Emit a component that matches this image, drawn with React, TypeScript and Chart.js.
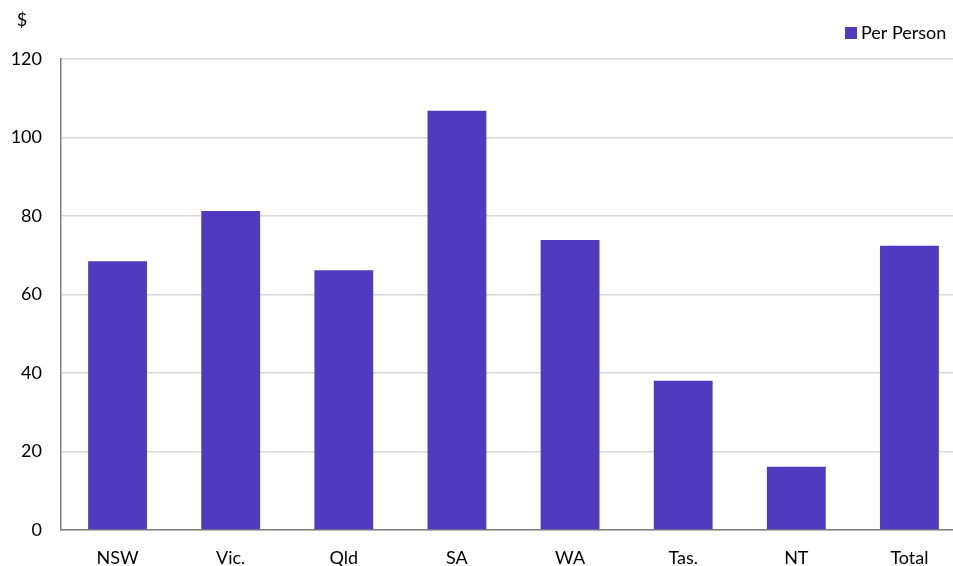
import React, { useEffect, useRef } from "react";
import { Chart, registerables } from "chart.js";

Chart.register(...registerables);

const categories = ["NSW", "Vic.", "Qld", "SA", "WA", "Tas.", "NT", "Total"];
const perPerson = [68.5, 81.3, 66.2, 106.8, 73.9, 38.0, 16.1, 72.4];
const seriesName = "Per Person";
const yUnit = "$";
const barColor = "#4F3AC0";
const fontFamily = "Lato, 'Open Sans', sans-serif";

export default function App() {
  const ref = useRef<HTMLCanvasElement>(null);
  useEffect(() => {
    document.body.style.margin = "0";
    const overlay = {
      id: "overlay",
      afterDraw(chart: any) {
        const ctx = chart.ctx;
        ctx.save();
        ctx.fillStyle = "#000";
        ctx.font = `18px ${fontFamily}`;
        ctx.textBaseline = "middle";
        ctx.textAlign = "center";
        ctx.fillText(yUnit, 22, 20);
        ctx.fillStyle = barColor;
        ctx.fillRect(845, 27, 12, 12);
        ctx.fillStyle = "#000";
        ctx.textAlign = "left";
        ctx.fillText(seriesName, 861, 33);
        ctx.restore();
      },
    };
    const chart = new Chart(ref.current!, {
      type: "bar",
      data: {
        labels: categories,
        datasets: [
          {
            label: seriesName,
            data: perPerson,
            backgroundColor: barColor,
            categoryPercentage: 1,
            barPercentage: 0.52,
          },
        ],
      },
      plugins: [overlay],
      options: {
        animation: false,
        responsive: false,
        maintainAspectRatio: false,
        layout: { padding: { top: 59, right: 4, left: 0, bottom: 0 } },
        plugins: { legend: { display: false }, tooltip: { enabled: false } },
        scales: {
          x: {
            grid: { display: false },
            border: { color: "#808080", width: 1.5 },
            ticks: { color: "#000", font: { family: fontFamily, size: 18 }, padding: 9 },
            afterFit(s: any) {
              s.height = 36;
            },
          },
          y: {
            min: 0,
            max: 120,
            ticks: { stepSize: 20, color: "#000", font: { family: fontFamily, size: 18 }, padding: 19 },
            grid: { color: "#d9d9d9", lineWidth: 1.5, drawTicks: false },
            border: { color: "#808080", width: 1.5 },
            afterFit(s: any) {
              s.width = 61;
            },
          },
        },
      },
    });
    return () => chart.destroy();
  }, []);
  return (
    <div style={{ position: "absolute", left: 0, top: 0, width: 953, height: 566, overflow: "hidden" }}>
      <canvas ref={ref} width={970} height={566} style={{ width: 970, height: 566, display: "block" }} />
    </div>
  );
}
